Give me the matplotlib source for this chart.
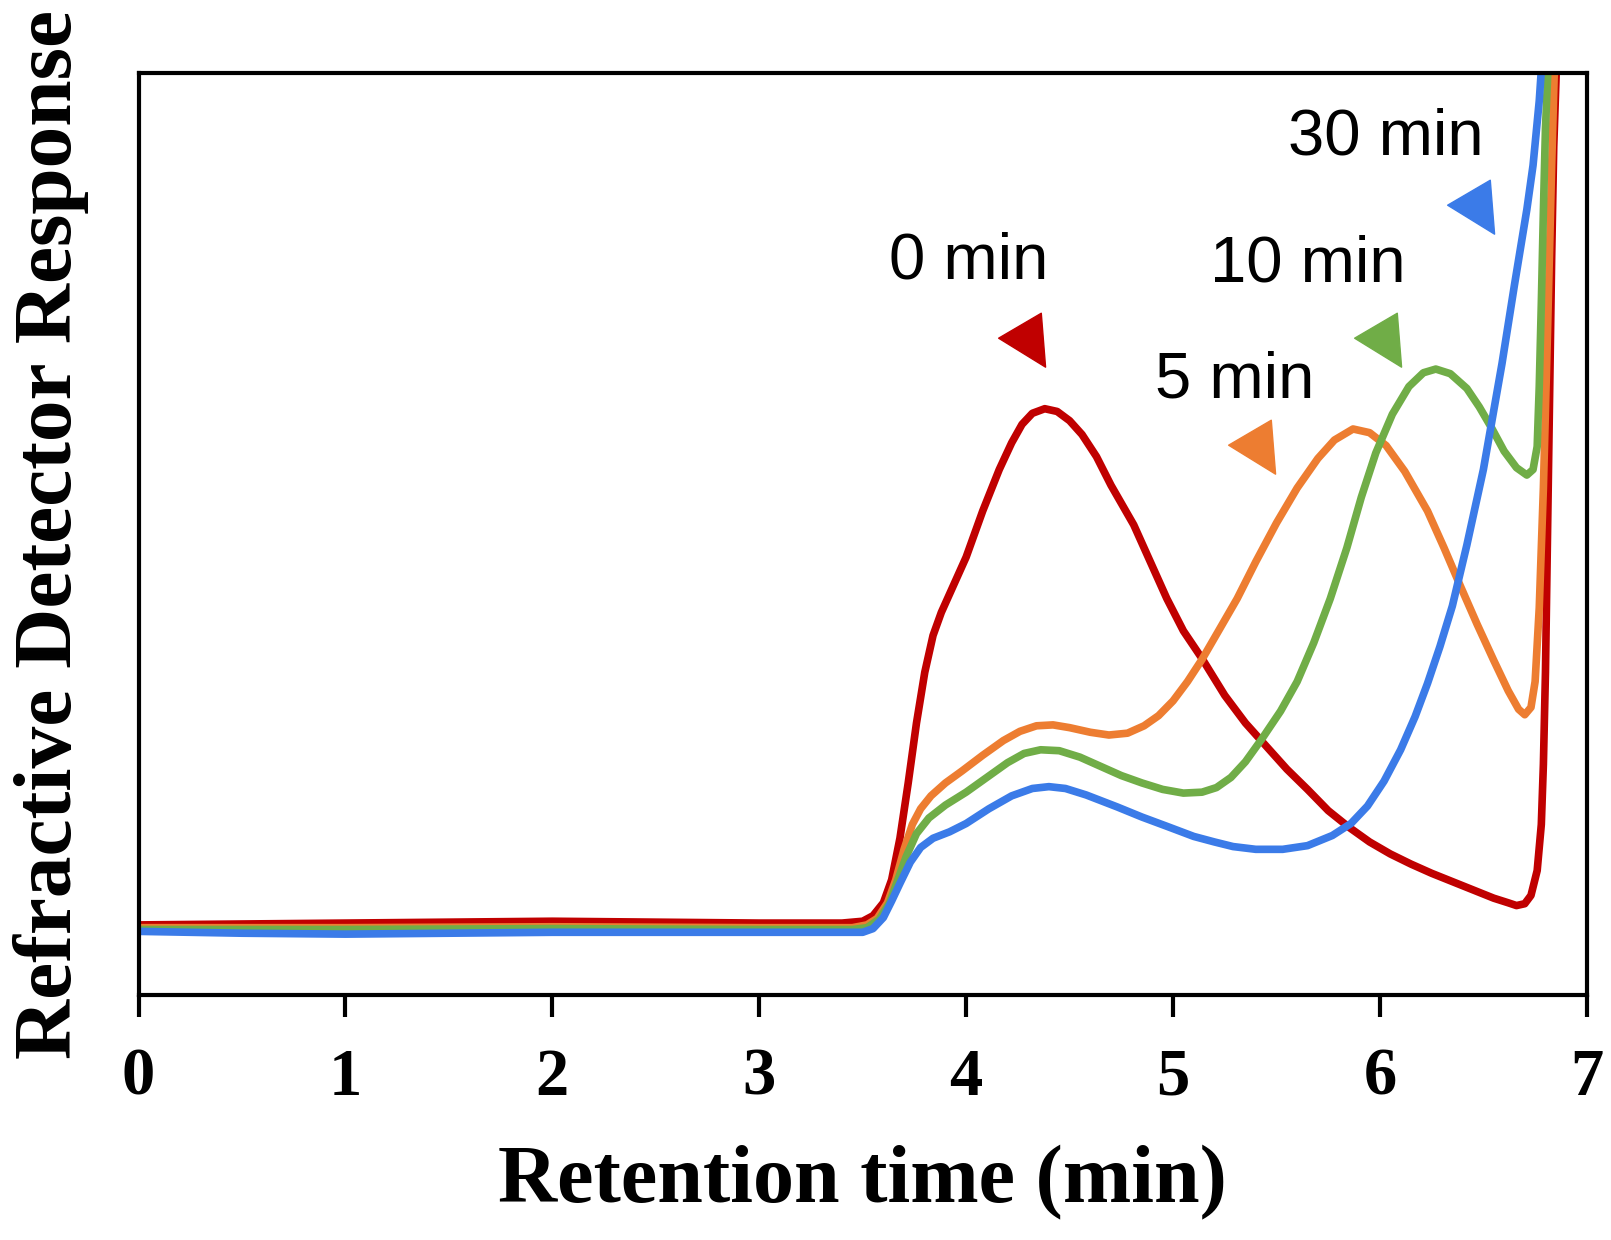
import numpy as np
import matplotlib
matplotlib.use("Agg")
import matplotlib.pyplot as plt
from matplotlib.path import Path


# Retention time (min) / detector response (arbitrary units, 0-100 = axis height)
red_x = [0.00, 0.50, 1.00, 1.50, 2.00, 2.50, 3.00, 3.40, 3.50, 3.55, 3.60, 3.64, 3.68,
         3.72, 3.76, 3.80, 3.84, 3.88, 3.93, 4.00, 4.08, 4.16, 4.22, 4.27, 4.32, 4.38,
         4.44, 4.50, 4.56, 4.63, 4.70, 4.81, 4.90, 4.97, 5.05, 5.14, 5.25, 5.35, 5.45,
         5.55, 5.65, 5.75, 5.85, 5.95, 6.05, 6.15, 6.25, 6.35, 6.45, 6.55, 6.62, 6.66,
         6.70, 6.73, 6.76, 6.78, 6.79, 6.80, 6.81, 6.82, 6.83, 6.84, 6.855]
red_y = [7.6, 7.7, 7.8, 7.9, 8.0, 7.9, 7.8, 7.8, 8.0, 8.6, 10.0, 12.5, 17.0,
         23.0, 29.5, 35.0, 39.0, 41.5, 44.0, 47.5, 52.5, 57.0, 59.9, 61.9, 63.1, 63.6,
         63.3, 62.3, 60.8, 58.4, 55.3, 51.0, 46.5, 43.0, 39.5, 36.5, 32.5, 29.5, 27.0,
         24.5, 22.3, 20.0, 18.2, 16.6, 15.3, 14.2, 13.2, 12.3, 11.4, 10.5, 10.0, 9.7,
         9.9, 10.8, 13.5, 18.5, 25.0, 35.0, 50.0, 65.0, 80.0, 92.0, 102.0]

orange_x = [0.00, 1.00, 2.00, 3.00, 3.45, 3.52, 3.57, 3.62, 3.66, 3.70, 3.74, 3.78, 3.83,
            3.90, 3.98, 4.08, 4.18, 4.26, 4.34, 4.42, 4.50, 4.60, 4.69, 4.78, 4.86, 4.93,
            5.00, 5.07, 5.14, 5.22, 5.31, 5.40, 5.50, 5.60, 5.70, 5.78, 5.87, 5.95, 6.03,
            6.12, 6.23, 6.31, 6.39, 6.47, 6.55, 6.62, 6.67, 6.70, 6.73, 6.75, 6.77, 6.79,
            6.81, 6.83, 6.845]
orange_y = [7.3, 7.3, 7.4, 7.3, 7.3, 7.6, 8.3, 10.0, 12.5, 15.8, 18.5, 20.2, 21.6,
            23.0, 24.3, 26.0, 27.6, 28.6, 29.2, 29.3, 29.0, 28.5, 28.2, 28.4, 29.2, 30.3,
            31.9, 34.0, 36.4, 39.5, 43.0, 47.0, 51.2, 55.0, 58.2, 60.2, 61.4, 61.0, 59.6,
            56.8, 52.5, 48.5, 44.3, 40.2, 36.3, 33.0, 31.0, 30.4, 31.2, 34.0, 42.0, 55.0,
            72.0, 90.0, 102.0]

green_x = [0.00, 1.00, 2.00, 3.00, 3.45, 3.52, 3.58, 3.63, 3.67, 3.71, 3.76, 3.82, 3.90,
           4.00, 4.10, 4.20, 4.28, 4.36, 4.45, 4.55, 4.65, 4.75, 4.85, 4.95, 5.05, 5.14,
           5.21, 5.28, 5.35, 5.43, 5.52, 5.60, 5.68, 5.76, 5.84, 5.91, 5.98, 6.06, 6.14,
           6.21, 6.27, 6.34, 6.42, 6.48, 6.54, 6.60, 6.66, 6.71, 6.74, 6.76, 6.77, 6.78,
           6.79, 6.80, 6.815]
green_y = [7.1, 7.1, 7.2, 7.1, 7.1, 7.3, 8.2, 10.0, 12.5, 15.0, 17.5, 19.2, 20.6,
           22.0, 23.6, 25.2, 26.2, 26.6, 26.5, 25.8, 24.8, 23.8, 23.0, 22.3, 21.9, 22.0,
           22.5, 23.6, 25.3, 27.8, 30.8, 34.0, 38.2, 43.0, 48.5, 54.0, 58.8, 63.0, 66.0,
           67.5, 67.9, 67.4, 65.8, 63.8, 61.5, 59.0, 57.2, 56.4, 57.0, 59.5, 66.0, 75.0,
           85.0, 94.0, 102.0]

blue_x = [0.00, 0.50, 1.00, 1.50, 2.00, 2.50, 3.00, 3.50, 3.55, 3.60, 3.64, 3.68, 3.73,
          3.78, 3.84, 3.92, 4.00, 4.11, 4.22, 4.32, 4.40, 4.48, 4.58, 4.73, 4.85, 4.97,
          5.10, 5.20, 5.29, 5.40, 5.53, 5.65, 5.77, 5.86, 5.94, 6.02, 6.10, 6.17, 6.23,
          6.29, 6.35, 6.42, 6.50, 6.59, 6.65, 6.71, 6.74, 6.77, 6.785]
blue_y = [6.9, 6.7, 6.6, 6.7, 6.8, 6.8, 6.8, 6.8, 7.2, 8.4, 10.2, 12.1, 14.4,
          16.0, 17.0, 17.7, 18.6, 20.2, 21.6, 22.4, 22.6, 22.4, 21.7, 20.4, 19.3, 18.3,
          17.2, 16.6, 16.1, 15.8, 15.8, 16.2, 17.3, 18.6, 20.5, 23.2, 26.6, 30.2, 33.8,
          37.8, 42.2, 48.8, 57.0, 68.5, 77.0, 85.2, 90.0, 97.0, 102.0]

series_labels = ["0 min", "5 min", "10 min", "30 min"]
label_x = [4.01, 5.30, 5.65, 6.03]
label_y = [79.6, 66.7, 79.2, 93.0]
arrow_x = [4.30, 5.41, 6.02, 6.47]
arrow_y = [71.2, 59.5, 71.2, 85.6]

colors = ["#C00000", "#ED7D31", "#70AD47", "#3B7BE8"]

serif = ["Liberation Serif", "DejaVu Serif"]
sans = ["Liberation Sans", "DejaVu Sans"]

fig = plt.figure(figsize=(16.11, 12.40), dpi=100)
ax = fig.add_axes([0.086, 0.1976, 0.899, 0.7434])

curves = [(red_x, red_y), (orange_x, orange_y), (green_x, green_y), (blue_x, blue_y)]
for (xs, ys), c in zip(curves, colors):
    ax.plot(xs, ys, color=c, lw=5.5, solid_joinstyle="round", solid_capstyle="round")

# arrowhead-like triangles pointing at each peak
tri = Path([(-29.9, 1.3), (12.8, 26.3), (17.1, -27.7), (-29.9, 1.3)],
           [Path.MOVETO, Path.LINETO, Path.LINETO, Path.CLOSEPOLY])
for i in range(4):
    ax.plot(arrow_x[i], arrow_y[i], marker=tri, markersize=43, color=colors[i],
            linestyle="none")
    ax.text(label_x[i], label_y[i], series_labels[i], fontsize=47, family=sans,
            ha="center", va="center", color="black")

ax.set_xlim(0, 7)
ax.set_ylim(0, 100)
ax.set_xticks(range(8))
ax.set_xticklabels([str(i) for i in range(8)], family=serif, fontweight="bold",
                   fontsize=48)
ax.set_yticks([])
ax.tick_params(axis="x", direction="out", length=16, width=3, pad=22)
for s in ax.spines.values():
    s.set_linewidth(3)

ax.set_xlabel("Retention time (min)", family=serif, fontweight="bold", fontsize=59,
              labelpad=26)
ax.set_ylabel("Refractive Detector Response", family=serif, fontweight="bold",
              fontsize=60, labelpad=36)

fig.savefig("out.png", dpi=100)
